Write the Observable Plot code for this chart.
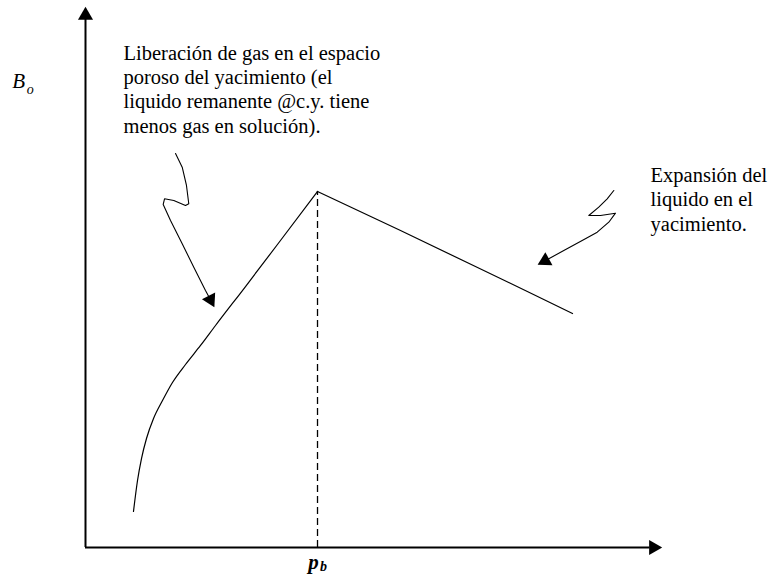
<!DOCTYPE html>
<html>
<head>
<meta charset="utf-8">
<script src="https://cdn.jsdelivr.net/npm/d3@7"></script>
<script src="https://cdn.jsdelivr.net/npm/@observablehq/plot@0.6"></script>
<style>
  html, body { margin: 0; padding: 0; background: #fff; }
  #chart svg { display: block; }
</style>
</head>
<body>
<div id="chart"></div>
<script>
// ---- Data (schematic units: pressure 0–100, Bo 0–100) ----
const bubblePoint = 40.28;            // p_b
const boAtBubble = 65.93;

// Bo below the bubble point (gas liberation)
const pBelow  = [8.33, 9.03, 9.72, 10.59, 11.81, 13.37, 15.10, 17.36, 19.97, 22.57, 27.78, 33.85, 40.28];
const boBelow = [6.67, 12.41, 16.48, 20.19, 23.89, 27.22, 30.56, 33.89, 37.41, 41.11, 48.33, 56.85, 65.93];

// Bo above the bubble point (liquid expansion)
const pAbove  = [40.28, 54.69, 68.06, 77.78, 84.55];
const boAbove = [65.93, 58.70, 51.85, 46.85, 43.33];

// Annotation squiggle arrows
const leftArrowX = [15.63, 16.79, 17.53, 17.93, 17.36, 15.33, 13.72, 13.49, 14.76, 16.79, 18.80, 20.83, 21.70];
const leftArrowY = [72.96, 70.43, 67.04, 63.65, 63.33, 64.26, 64.57, 63.52, 60.56, 56.24, 51.91, 47.59, 45.90];
const rightArrowX = [91.72, 90.57, 89.11, 87.38, 89.41, 92.01, 90.85, 88.84, 86.23, 83.04, 79.80];
const rightArrowY = [66.11, 64.57, 63.02, 61.48, 61.48, 61.91, 60.24, 58.39, 56.85, 55.00, 53.10];

// Texts
const leftNote = ["Liberación de gas en el espacio", "poroso del yacimiento (el", "liquido remanente @c.y. tiene", "menos gas en solución)."];
const rightNote = ["Expansión del", "liquido en el", "yacimiento."];
const yLabel = ["B", "o"];
const xLabel = ["p", "b"];

// ---- Build tables ----
const below = pBelow.map((p, i) => ({p, bo: boBelow[i]}));
const above = pAbove.map((p, i) => ({p, bo: boAbove[i]}));
const leftArrow = leftArrowX.map((x, i) => ({x, y: leftArrowY[i]}));
const rightArrow = rightArrowX.map((x, i) => ({x, y: rightArrowY[i]}));
const lastOf = a => a[a.length - 1];

const W = 771, H = 578;
const mL = 85, mR = 110, mT = 7, mB = 31;
const sx = (W - mL - mR) / 100, sy = (H - mT - mB) / 100;
// clockwise rotation (deg) turning an up-pointing triangle toward direction a -> b
const heading = (a, b) => Math.atan2((b.x - a.x) * sx, (b.y - a.y) * sy) * 180 / Math.PI;

const serif = "Liberation Serif, Times New Roman, serif";
const txt = {fill: "#000", fontFamily: serif};

const chart = Plot.plot({
  width: W, height: H,
  marginLeft: mL, marginRight: mR, marginTop: mT, marginBottom: mB,
  x: {domain: [0, 100], axis: null},
  y: {domain: [0, 100], axis: null},
  style: {background: "#fff", fontFamily: serif},
  marks: [
    // axes with filled arrowheads
    Plot.ruleY([0], {x1: 0, x2: 98, stroke: "#000", strokeWidth: 2}),
    Plot.ruleX([0], {y1: 0, y2: 98, stroke: "#000", strokeWidth: 2}),
    Plot.dot([{x: 100, y: 0}], {x: "x", y: "y", symbol: "triangle", rotate: 90, r: 5.6, dx: -8, fill: "#000", stroke: "none"}),
    Plot.dot([{x: 0, y: 100}], {x: "x", y: "y", symbol: "triangle", rotate: 0, r: 5.6, dy: 8, fill: "#000", stroke: "none"}),
    // bubble point dashed line
    Plot.ruleX([bubblePoint], {y1: 0, y2: boAtBubble, stroke: "#000", strokeWidth: 1.3, strokeDasharray: "7,4"}),
    // Bo curve
    Plot.line(below, {x: "p", y: "bo", stroke: "#000", strokeWidth: 1.2, curve: "monotone-x"}),
    Plot.line(above, {x: "p", y: "bo", stroke: "#000", strokeWidth: 1.2}),
    // annotation arrows
    Plot.line(leftArrow, {x: "x", y: "y", stroke: "#000", strokeWidth: 1.1}),
    Plot.line(rightArrow, {x: "x", y: "y", stroke: "#000", strokeWidth: 1.1}),
    Plot.dot([lastOf(leftArrow)], {x: "x", y: "y", symbol: "triangle", r: 5.5, fill: "#000", stroke: "none",
      rotate: heading(leftArrow[leftArrow.length - 4], lastOf(leftArrow))}),
    Plot.dot([lastOf(rightArrow)], {x: "x", y: "y", symbol: "triangle", r: 5.5, fill: "#000", stroke: "none",
      rotate: heading(rightArrow[rightArrow.length - 3], lastOf(rightArrow))}),
    // notes
    Plot.text([leftNote.join("\n")], {...txt, x: 6.6, y: 85.0, text: d => d, textAnchor: "start", lineAnchor: "middle",
      lineHeight: 1.18, fontSize: 20.5}),
    Plot.text([rightNote.join("\n")], {...txt, x: 98.1, y: 64.6, text: d => d, textAnchor: "start", lineAnchor: "middle",
      lineHeight: 1.18, fontSize: 20.5}),
    // axis labels
    Plot.text([yLabel[0]], {...txt, x: -11.6, y: 86.3, text: d => d, fontSize: 21, fontStyle: "italic"}),
    Plot.text([yLabel[1]], {...txt, x: -9.6, y: 84.8, text: d => d, fontSize: 14, fontStyle: "italic"}),
    Plot.text([xLabel[0]], {...txt, x: bubblePoint, y: -2.8, dx: -4, text: d => d, fontSize: 21, fontStyle: "italic", fontWeight: "bold"}),
    Plot.text([xLabel[1]], {...txt, x: bubblePoint, y: -3.5, dx: 6, text: d => d, fontSize: 14, fontStyle: "italic", fontWeight: "bold"})
  ]
});
document.getElementById("chart").appendChild(chart);
</script>
</body>
</html>
